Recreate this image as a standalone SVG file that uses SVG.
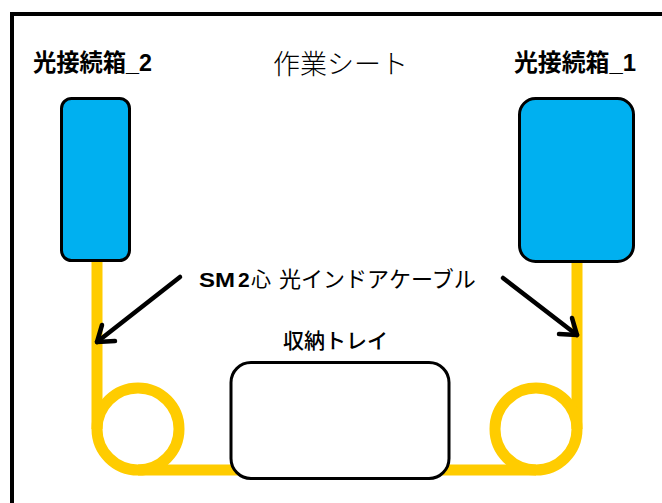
<svg xmlns="http://www.w3.org/2000/svg" width="662" height="503" viewBox="0 0 662 503">
  <style>
    .frame { fill: none; stroke: #000; stroke-width: 4; }
    .box { fill: #00B0F0; stroke: #000; stroke-width: 3; }
    .tray { fill: #fff; stroke: #000; stroke-width: 3; }
    .cable { fill: none; stroke: #FFCC00; stroke-width: 11; }
    .arrow { fill: none; stroke: #000; stroke-width: 4.5; stroke-linecap: round; stroke-linejoin: round; }
    .lbl { font-family: "Liberation Sans", "Noto Sans CJK JP", sans-serif; fill: #000; }
    .b { font-weight: bold; }
  </style>
  <rect x="0" y="0" width="662" height="503" fill="#fff"/>
  <rect class="frame" x="12" y="14" width="700" height="600"/>

  <text class="lbl" x="273" y="74" font-size="27" font-weight="300">作業シート</text>

  <g id="cables">
    <path class="cable" d="M97,261 V429"/>
    <circle class="cable" cx="138" cy="429" r="41"/>
    <path class="cable" d="M138,470 H240"/>
    <path class="cable" d="M577,261 V429"/>
    <circle class="cable" cx="536" cy="429" r="41"/>
    <path class="cable" d="M440,470 H536"/>
  </g>

  <g id="box2">
    <rect class="box" x="61.5" y="98.5" width="68" height="162" rx="10"/>
    <text class="lbl b" x="33" y="71" font-size="24" textLength="119" lengthAdjust="spacingAndGlyphs">光接続箱_2</text>
  </g>

  <g id="box1">
    <rect class="box" x="519.5" y="98.5" width="114" height="163" rx="16"/>
    <text class="lbl b" x="514" y="71" font-size="24" textLength="122" lengthAdjust="spacingAndGlyphs">光接続箱_1</text>
  </g>

  <g id="tray">
    <rect class="tray" x="231" y="362.5" width="218" height="116" rx="20"/>
    <text class="lbl" x="283" y="348" font-size="21" font-weight="500">収納トレイ</text>
  </g>

  <g id="cable-label">
    <text class="lbl" y="287" font-size="22"><tspan class="b" x="199" font-size="21" textLength="36" lengthAdjust="spacingAndGlyphs">SM</tspan><tspan class="b" x="238" font-size="21">2</tspan><tspan x="251" font-size="20">心</tspan><tspan x="279">光インドアケーブル</tspan></text>
  </g>

  <g id="connectors">
    <path class="arrow" d="M180,277 L97,342"/>
    <path class="arrow" d="M115,341 L97,342 L102,325"/>
    <path class="arrow" d="M503,278 L577,335"/>
    <path class="arrow" d="M572,318 L577,335 L559,334"/>
  </g>
</svg>
